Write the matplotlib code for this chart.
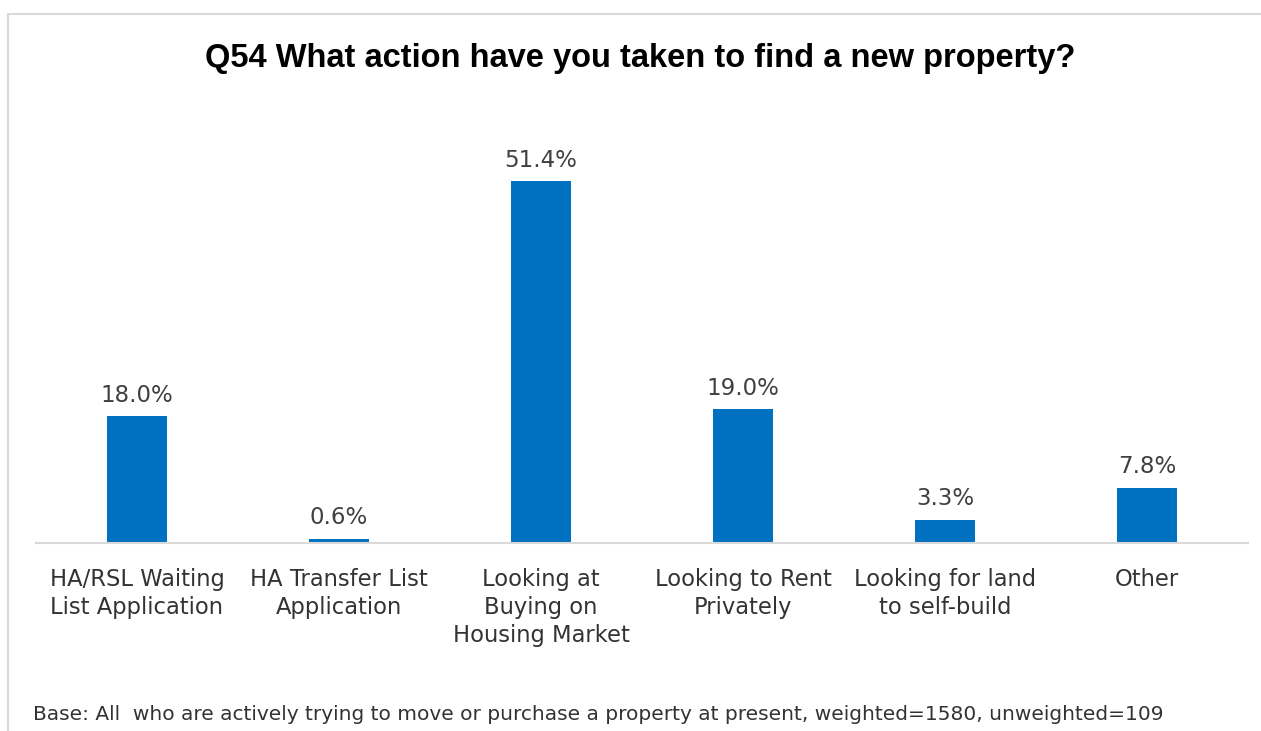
import matplotlib.pyplot as plt
from matplotlib.patches import Rectangle

categories = [
    "HA/RSL Waiting\nList Application",
    "HA Transfer List\nApplication",
    "Looking at\nBuying on\nHousing Market",
    "Looking to Rent\nPrivately",
    "Looking for land\nto self-build",
    "Other",
]
values = [18.0, 0.6, 51.4, 19.0, 3.3, 7.8]

title = "Q54 What action have you taken to find a new property?"
base_note = ("Base: All  who are actively trying to move or purchase a property at present, "
             "weighted=1580, unweighted=109")

W, H = 1261, 731
fig = plt.figure(figsize=(W / 100, H / 100), dpi=100)
fig.patch.set_facecolor("white")

# light frame round the chart area
fig.add_artist(Rectangle((8 / W, -0.1), 1.2, (H - 14) / H + 0.1, transform=fig.transFigure,
                         fill=False, edgecolor="#D9D9D9", linewidth=1.5))

ax = fig.add_axes([36 / W, 188 / H, (1248 - 36) / W, 422 / H])
x = range(len(values))
bars = ax.bar(x, values, width=0.3, color="#0070C0")
ax.set_xlim(-0.5, len(values) - 0.5)
ax.set_ylim(0, 60)

for b, v in zip(bars, values):
    ax.annotate(f"{v:.1f}%", (b.get_x() + b.get_width() / 2, v), xytext=(0, 7),
                textcoords="offset points", ha="center", va="bottom",
                fontsize=16.5, color="#404040", family="DejaVu Sans")

for s in ["top", "right", "left"]:
    ax.spines[s].set_visible(False)
ax.spines["bottom"].set_color("#D9D9D9")
ax.spines["bottom"].set_linewidth(1.5)
ax.set_yticks([])
ax.set_xticks(list(x))
ax.set_xticklabels(categories, fontsize=16.3, color="#333333", family="DejaVu Sans",
                   linespacing=1.28)
ax.tick_params(axis="x", length=0, pad=18)

fig.text(0.508, 1 - 58 / H, title, ha="center", va="center", fontsize=23.5,
         fontweight="bold", family="Liberation Sans", color="black")
fig.text(33 / W, 1 - 714 / H, base_note, ha="left", va="center", fontsize=14.5,
         family="DejaVu Sans", color="#333333")

fig.savefig("out.png", dpi=100)
